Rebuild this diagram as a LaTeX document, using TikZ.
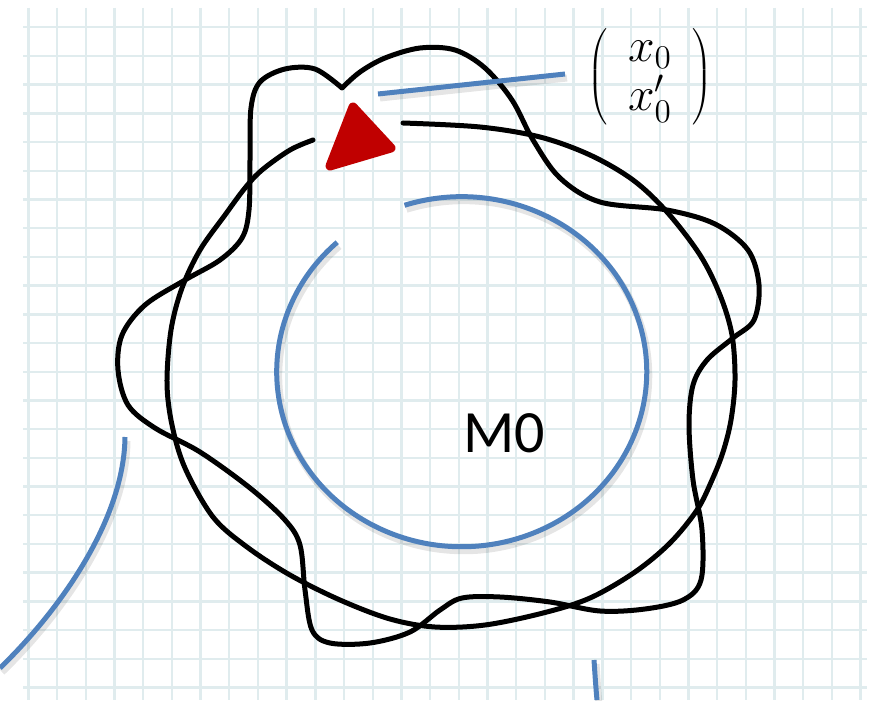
\documentclass[tikz,border=0pt]{standalone}
\usepackage{fontspec}
\usepackage{graphicx}
\usepackage{tikz}
\newfontfamily\calibri{Carlito}
\definecolor{MZBlue}{HTML}{4F81BD}
\definecolor{MZRed}{HTML}{C00000}
\definecolor{MZGrid}{HTML}{E0ECEE}
\tikzset{
  blueline/.style={draw=MZBlue,line width=2.5pt,line cap=butt,
    preaction={draw=black,opacity=.10,line width=3.5pt,
      transform canvas={shift={(1pt,-2pt)}}}},
  inkline/.style={draw=black,line width=2.5pt,line cap=round,line join=round},
}

\begin{document}
\begin{tikzpicture}[x=0.5pt,y=-0.5pt]
\path[use as bounding box,fill=white] (0,0) rectangle (876,700);
% squared paper
\foreach \i in {0,...,29}
  \draw[MZGrid,line width=1.2pt] (28.3+28.7*\i,8) -- (28.3+28.7*\i,700);
\foreach \j in {0,...,23}
  \draw[MZGrid,line width=1.2pt] (23,27.3+28.7*\j) -- (867,27.3+28.7*\j);
% M0 circle
\draw[blueline] (461.7,371.7) ++(-108:185 and 175)
  arc[start angle=-108,end angle=227.7,x radius=185,y radius=175];
\node (mzero) at (504,433) {\calibri\fontsize{30}{36}\selectfont M0};
% wavy loop
\draw[inkline] plot[smooth,tension=0.55] coordinates {
  (342,88) (360,72) (385,58) (420,48) (455,50) (485,68) (512,100) (533,140)
  (560,178) (600,202) (667,210) (715,224) (748,250) (759,285) (754,320)
  (733,338) (707,360) (693,385) (689,425) (693,480) (702,530) (701,580)
  (683,600) (645,609) (600,611) (550,602) (500,597) (462,598) (440,610)
  (410,632) (370,643) (330,643) (312,630) (305,590) (300,545) (285,520)
  (250,488) (200,452) (155,428) (128,405) (118,370) (122,335) (145,305)
  (185,280) (220,260) (242,238) (249,210) (250,160) (251,108) (260,82)
  (285,69) (315,69) (342,88)};
% open loop
\draw[inkline] plot[smooth,tension=0.55] coordinates {
  (313,140) (290,150) (262,170) (245,188) (225,215) (200,250) (182,288)
  (171,330) (167,383) (172,425) (185,468) (213,517) (247,547) (290,575)
  (340,600) (390,619) (435,627) (485,625) (543,613) (590,598) (635,572)
  (670,543) (697,510) (712,480) (723,452) (731,420) (735,380) (732,335)
  (720,295) (700,255) (667,212) (633,180) (590,155) (540,137) (480,127)
  (403,123)};
% initial point
\filldraw[MZRed,line width=4.5pt,line join=round] (353,107) -- (330,166) -- (391,148) -- cycle;
% label of the initial point
\node (vec) at (650,77) {\scalebox{1.15}{\huge\renewcommand\arraystretch{0.8}%
  $\arraycolsep=9pt\left(\begin{array}{c} x_0\\ x'_0 \end{array}\right)$}};
\coordinate (tip) at (378,94);
\coordinate (lead) at (565,74);
\draw[blueline] (tip) -- (lead);
% outer arcs
\draw[blueline] (125,437) .. controls (124,520) and (60,610) .. (0,668);
\draw[blueline] (594,660) .. controls (595,675) and (596,690) .. (597,700);
\end{tikzpicture}
\end{document}
